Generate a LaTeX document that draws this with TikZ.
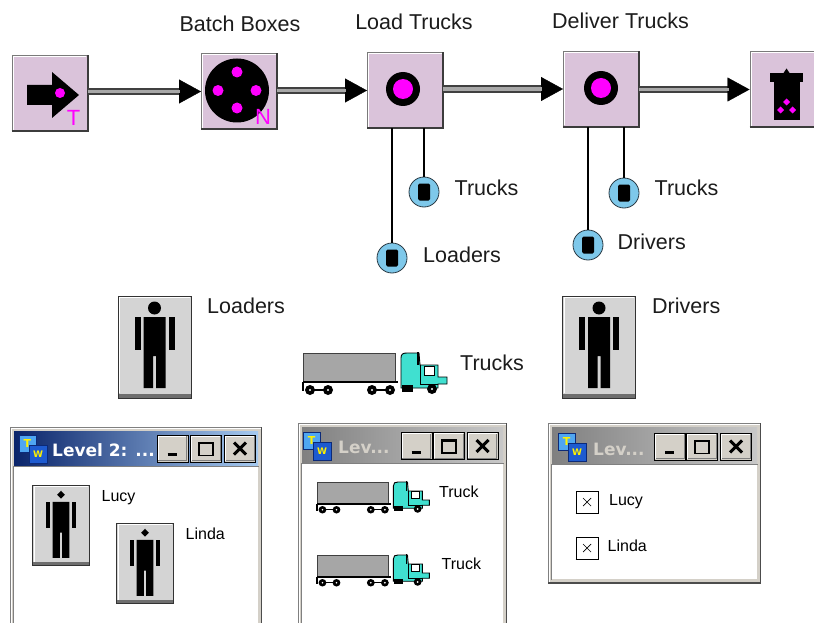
\documentclass[tikz,border=0pt]{standalone}
\usepackage{fontspec}
\setmainfont{Liberation Sans}
\newfontfamily\titlefont{DejaVu Sans}
\usetikzlibrary{arrows.meta}

\definecolor{procfill}{HTML}{DAC3DA}
\definecolor{boxedge}{HTML}{7A7A7A}
\definecolor{boxshade}{HTML}{3C3C3C}
\definecolor{pipedark}{HTML}{404040}
\definecolor{pipelight}{HTML}{A8A8A8}
\definecolor{mag}{HTML}{FF00FF}
\definecolor{resfill}{HTML}{7EC8EA}
\definecolor{resedge}{HTML}{2A3A44}
\definecolor{btnface}{HTML}{D4D4D4}
\definecolor{btnshade}{HTML}{6E6E6E}
\definecolor{trailer}{HTML}{A6A6A6}
\definecolor{cabcol}{HTML}{40E0D0}
\definecolor{winface}{HTML}{D4D0C8}
\definecolor{winshade}{HTML}{808080}
\definecolor{actL}{HTML}{0A246A}
\definecolor{actR}{HTML}{A6CAF0}
\definecolor{inaL}{HTML}{808080}
\definecolor{inaR}{HTML}{C8C8C8}
\definecolor{iconlt}{HTML}{4FA6F2}
\definecolor{icondk}{HTML}{1E5BD0}
\definecolor{iconedge}{HTML}{0C2A78}
\definecolor{txt}{HTML}{1C1C1C}

% light edge top/left, dark edge bottom/right of a node
\newcommand\mkbevel[3]{%
  \draw[#2, line width=1] ([shift={(1.5,-1.5)}]#1.south west) -- ([shift={(1.5,1.5)}]#1.north west) -- ([shift={(-1.5,1.5)}]#1.north east);
  \draw[#3, line width=1] ([shift={(1.5,-1.5)}]#1.south west) -- ([shift={(-1.5,-1.5)}]#1.south east) -- ([shift={(-1.5,1.5)}]#1.north east);}

% raised process block
\newcommand\procbevel[1]{%
  \draw[white, line width=1] ([shift={(1.5,-1.5)}]#1.south west) -- ([shift={(1.5,1.5)}]#1.north west) -- ([shift={(-1.5,1.5)}]#1.north east);
  \draw[boxshade, line width=2] (#1.south west) -- (#1.south east) -- (#1.north east);}

% window frame: x1, y1, x2, y2, bottom of title bar, title colours left/right
\newcommand\twframe[7]{%
  \fill[winface] (#1,#2) rectangle (#3,#4);
  \draw[white, line width=1] (#1+1.5,#4-1) -- (#1+1.5,#2+1.5) -- (#3-1.5,#2+1.5);
  \draw[winshade, line width=1] (#1+0.5,#4) -- (#1+0.5,#2+0.5) -- (#3-0.5,#2+0.5) -- (#3-0.5,#4);
  \draw[black!70, line width=1.2] (#3-0.6,#2) -- (#3-0.6,#4) -- (#1,#4);
  \shade[left color=#6, right color=#7] (#1+4,#2+4) rectangle (#3-4,#5);
  \fill[white] (#1+4,#5+1.5) rectangle (#3-4,#4-4);
  \draw[winshade, line width=1] (#1+3.5,#4-3.5) -- (#1+3.5,#5+1) -- (#3-3.5,#5+1);}

\begin{document}
\begin{tikzpicture}[x=1pt, y=-1pt,
  procbox/.style={draw=boxedge, fill=procfill, line width=1, minimum width=75, minimum height=75, inner sep=0},
  pipe/.style={draw=pipedark, line width=7.5,
    -{Triangle[length=22pt, width=24pt, line width=0.4pt, black]},
    postaction={draw=pipelight, line width=3.5, arrows=-, shorten >=21pt}},
  resnode/.style={circle, draw=resedge, fill=resfill, line width=0.8, minimum size=30, inner sep=0,
    path picture={\fill[black, rounded corners=1.5]
      ([shift={(-6,-8.5)}]path picture bounding box.center) rectangle
      ([shift={(6,8.5)}]path picture bounding box.center);}},
  resline/.style={draw=black, line width=1.3},
  lbl/.style={font=\fontsize{21.5}{24}\selectfont, text=txt, inner sep=0, anchor=base west},
  toplbl/.style={lbl, anchor=base},
  smlbl/.style={font=\fontsize{16}{18}\selectfont, text=black, inner sep=0, anchor=base west},
  ttl/.style={font=\titlefont\bfseries\fontsize{17}{19}\selectfont, inner sep=0, anchor=base west},
  symb/.style={font=\fontsize{22}{22}\selectfont, text=mag, inner sep=0},
  winbtn/.style={draw=black, fill=winface, line width=0.8, minimum width=31, minimum height=27, inner sep=0},
  chk/.style={draw=black, fill=white, line width=1, minimum size=22, inner sep=0},
  % button with a standing figure; the head is drawn separately
  personbtn/.pic={
    \fill[btnface] (-36.5,-51) rectangle (36.5,51);
    \fill[btnshade] (-36.5,46.5) rectangle (36.5,51);
    \draw[white, line width=1] (-35,46) -- (-35,-49.5) -- (35,-49.5);
    \draw[black!80, line width=1] (-36.5,-51) rectangle (36.5,51);
    \fill[black] (-20,-30) rectangle (-14,3);
    \fill[black] (14,-30) rectangle (20,3);
    \fill[black] (-11,-30) -- (11,-30) -- (11,41) -- (1.5,41) -- (1.5,9) -- (-1.5,9) -- (-1.5,41) -- (-11,41) -- cycle;
  },
  roundhead/.pic={\fill[black] (0,-39) circle (6.5);},
  diamondhead/.pic={\fill[black] (-5,-39) -- (0,-44) -- (5,-39) -- (0,-34) -- cycle;},
  truck/.pic={
    \draw[black, line width=1.3] (0,29) -- (0,38);
    \draw[draw=black!75, fill=trailer, line width=0.8] (0,0) rectangle (92,29);
    \draw[black, line width=1.8] (0,29) -- (95,29);
    \draw[black, line width=1.4] (7,37) -- (25,37) (69,37) -- (87,37);
    \foreach \wx in {7,25,69,87} {
      \fill[black] (\wx,37) circle (5);
      \fill[white] (\wx,37) circle (1.2);
    }
    \draw[fill=cabcol, draw=black, line width=0.9] (98,35) -- (98,5) .. controls (98,1) and (100,0) .. (104,0)
      -- (116,0) -- (117,12) -- (135,12) -- (135,24) -- (144,24) -- (144,31) -- (135,31) -- (135,35) -- cycle;
    \draw[fill=white, draw=black, line width=0.9] (121,13) rectangle (131,22);
    \draw[black, line width=0.8] (117,12) -- (117,31) -- (135,31);
    \draw[black, line width=1.2] (115,-1) -- (115,12);
    \fill[black] (99,32) rectangle (110,39);
    \fill[black] (129,36) circle (5);
    \fill[white] (129,36) circle (1.2);
  },
  twicon/.pic={
    \draw[fill=iconlt, draw=iconedge, line width=0.6] (0,0) rectangle (17,17);
    \node[text=yellow, font=\titlefont\bfseries\fontsize{11}{11}\selectfont, inner sep=0] (-t) at (8.5,8) {T};
    \draw[fill=icondk, draw=iconedge, line width=0.6] (10,10) rectangle (28,28);
    \node[text=yellow, font=\titlefont\bfseries\fontsize{9}{9}\selectfont, inner sep=0] (-w) at (19,19.5) {W};
  }]

\useasboundingbox (0,0) rectangle (814,623);
\fill[white] (0,0) rectangle (814,623);

% ---------- process line ----------
\node[procbox] (src) at (49.5,93.5) {};
\node[procbox] (batch) at (239,91.5) {};
\node[procbox] (load) at (405,90.5) {};
\node[procbox] (deliver) at (601,89) {};
\node[procbox] (sink) at (787.5,89.5) {};
\foreach \b in {src,batch,load,deliver,sink} {\procbevel{\b}}

% source: arrow with token
\fill[black] (27,85) -- (52,85) -- (52,72) -- (79,95) -- (52,118) -- (52,105) -- (27,105) -- cycle;
\fill[mag] (60,93) circle (5);
\node[symb] (srcT) at (73.5,118) {T};

% batch: disc with four tokens
\fill[black] (237,90.5) circle (32);
\foreach \dx/\dy in {237/72, 218/90.5, 256/90.5, 237/108} {\fill[mag] (\dx,\dy) circle (5.5);}
\node[symb] (batchN) at (263,116.5) {N};

% activities
\fill[black] (403,89) circle (17);
\fill[mag] (403,89) circle (10);
\fill[black] (601,88) circle (17);
\fill[mag] (601,88) circle (10);

% sink: bin
\fill[black] (786.5,68.5) -- (789.5,73) -- (783.5,73) -- cycle;
\fill[black] (770,73) rectangle (803,82);
\fill[black] (774,82) rectangle (800,120);
\foreach \dx/\dy in {786.5/102, 780.5/110, 792.5/110} {
  \fill[mag] (\dx-3.5,\dy) -- (\dx,\dy-3.5) -- (\dx+3.5,\dy) -- (\dx,\dy+3.5) -- cycle;}

% flow
\draw[pipe] (batch.west -| src.east) -- (batch.west);
\draw[pipe] (load.west -| batch.east) -- (load.west);
\draw[pipe] (deliver.west -| load.east) -- (deliver.west);
\draw[pipe] (sink.west -| deliver.east) -- (sink.west);

\node[toplbl] (lbatch) at (240,32) {Batch Boxes};
\node[toplbl] (lload) at (414,30) {Load Trucks};
\node[toplbl] (ldeliver) at (620.5,29) {Deliver Trucks};

% ---------- resources attached to activities ----------
\node[resnode] (ltrucks) at (424,192) {};
\node[resnode] (lloaders) at (392,258) {};
\node[resnode] (dtrucks) at (624,193) {};
\node[resnode] (ddrivers) at (588,245) {};
\draw[resline] (ltrucks.north |- load.south) -- (ltrucks.north);
\draw[resline] (lloaders.north |- load.south) -- (lloaders.north);
\draw[resline] (dtrucks.north |- deliver.south) -- (dtrucks.north);
\draw[resline] (ddrivers.north |- deliver.south) -- (ddrivers.north);

\node[lbl] (tltrucks) at (454.5,195) {Trucks};
\node[lbl] (tlloaders) at (423,262.5) {Loaders};
\node[lbl] (tdtrucks) at (654.5,196) {Trucks};
\node[lbl] (tddrivers) at (617.5,249) {Drivers};

% ---------- resource pools ----------
\pic (loaderspool) at (154.5,347) {personbtn};
\pic (loadershead) at (154.5,347) {roundhead};
\pic (driverspool) at (599,347) {personbtn};
\pic (drivershead) at (599,347) {roundhead};
\pic (truckpool) at (303,353) {truck};
\node[lbl] (tloaders) at (207,313.5) {Loaders};
\node[lbl] (tdrivers) at (652,313.5) {Drivers};
\node[lbl] (ttrucks) at (460,370) {Trucks};

% ---------- windows ----------
\twframe{10}{427}{262}{640}{465}{actL}{actR}
\twframe{298}{423}{507}{640}{462}{inaL}{inaR}
\twframe{548}{423}{761}{583}{463}{inaL}{inaR}

\pic (ic1) at (19,435) {twicon};
\pic (ic2) at (303,432) {twicon};
\pic (ic3) at (558,433) {twicon};
\node[ttl, text=white] (w1title) at (52,456) {Level 2: ...};
\node[ttl, text=winface] (w2title) at (338,453.5) {Lev...};
\node[ttl, text=winface] (w3title) at (593,455) {Lev...};

\foreach \n/\xa/\xb/\xc/\yy in {w1/172.5/206/240/448.5, w2/416.5/449/482.5/446, w3/670/702/736/446.5} {
  \node[winbtn] (\n min) at (\xa,\yy) {};
  \node[winbtn] (\n max) at (\xb,\yy) {};
  \node[winbtn] (\n cls) at (\xc,\yy) {};
  \mkbevel{\n min}{white}{winshade}
  \mkbevel{\n max}{white}{winshade}
  \mkbevel{\n cls}{white}{winshade}
  \draw[black, line width=3] ([shift={(-5,6)}]\n min.center) -- ([shift={(4,6)}]\n min.center);
  \draw[black, line width=1.2] ([shift={(-7,-6)}]\n max.center) rectangle ([shift={(7,7)}]\n max.center);
  \draw[black, line width=2.5] ([shift={(-7,-5.5)}]\n max.center) -- ([shift={(7,-5.5)}]\n max.center);
  \draw[black, line width=3] ([shift={(-6,-6)}]\n cls.center) -- ([shift={(6,6)}]\n cls.center)
    ([shift={(-6,6)}]\n cls.center) -- ([shift={(6,-6)}]\n cls.center);
}

% window 1: people
\pic[xscale=0.77, yscale=0.79] (lucybtn) at (61,525.5) {personbtn};
\pic[xscale=0.77, yscale=0.79] (lucyhead) at (61,525.5) {diamondhead};
\pic[xscale=0.77, yscale=0.79] (lindabtn) at (145,563.5) {personbtn};
\pic[xscale=0.77, yscale=0.79] (lindahead) at (145,563.5) {diamondhead};
\node[smlbl] (w1lucy) at (101.5,501) {Lucy};
\node[smlbl] (w1linda) at (185.5,539) {Linda};

% window 2: trucks
\pic[xscale=0.78, yscale=0.75] (truck1) at (317,482) {truck};
\pic[xscale=0.78, yscale=0.75] (truck2) at (317,555) {truck};
\node[smlbl] (w2t1) at (439,497) {Truck};
\node[smlbl] (w2t2) at (441.5,569) {Truck};

% window 3: check list
\node[chk] (chk1) at (587,502) {};
\node[chk] (chk2) at (587,548) {};
\foreach \c in {chk1,chk2} {
  \draw[black, line width=1.8] (\c.south west) -- (\c.south east) -- (\c.north east);
  \draw[black, line width=0.7] ([shift={(-4,-4)}]\c.center) -- ([shift={(4,4)}]\c.center)
    ([shift={(-4,4)}]\c.center) -- ([shift={(4,-4)}]\c.center);
}
\node[smlbl] (w3lucy) at (609,505) {Lucy};
\node[smlbl] (w3linda) at (607.5,551) {Linda};

\end{tikzpicture}
\end{document}
